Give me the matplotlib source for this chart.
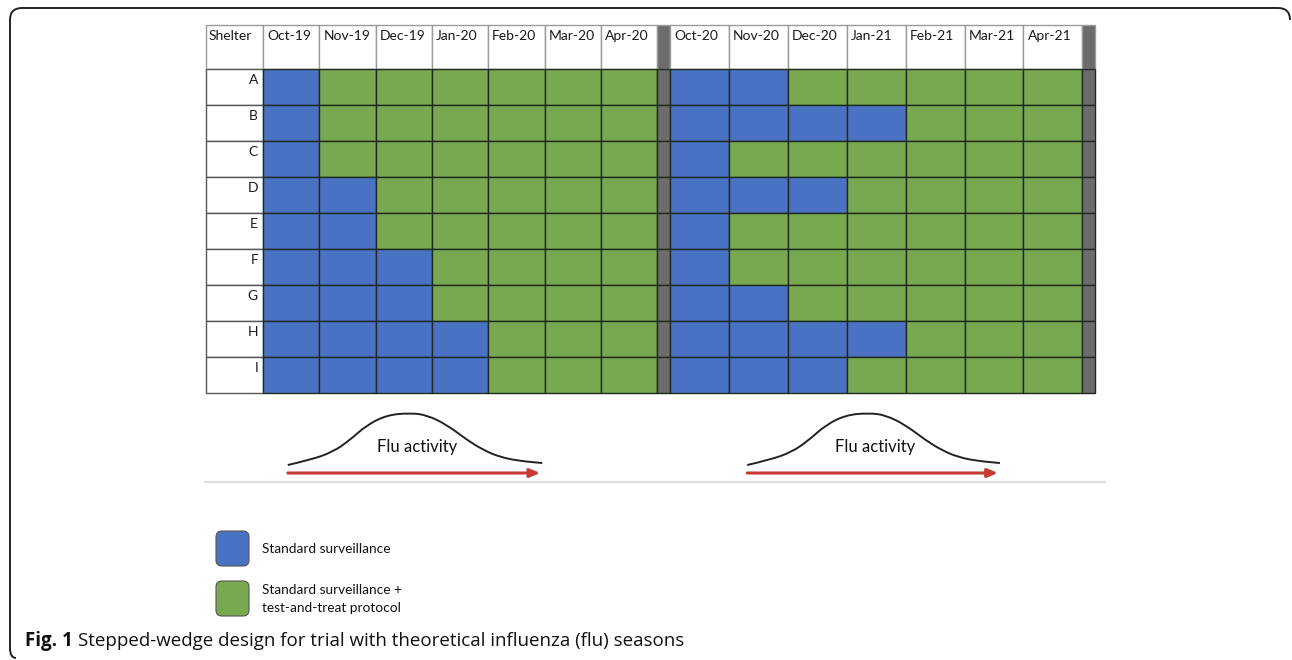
import matplotlib.pyplot as plt
import matplotlib.patches as mpatches
from matplotlib.path import Path

# --- data ---
shelters = ["A", "B", "C", "D", "E", "F", "G", "H", "I"]
months_s1 = ["Oct-19", "Nov-19", "Dec-19", "Jan-20", "Feb-20", "Mar-20", "Apr-20"]
months_s2 = ["Oct-20", "Nov-20", "Dec-20", "Jan-21", "Feb-21", "Mar-21", "Apr-21"]
# months under standard surveillance before switching to test-and-treat
blue_s1 = [1, 1, 1, 2, 2, 3, 3, 4, 4]
blue_s2 = [2, 4, 1, 3, 1, 1, 2, 4, 3]

# flu activity curve (relative position along curve, relative height)
flu_x = [0, .087, .177, .244, .311, .390, .480, .547, .626, .705, .768, .835, .913, 1.0]
flu_h = [0, .096, .25, .48, .77, .96, 1.0, .96, .77, .48, .29, .15, .077, .038]
# start / end of flu curve in month units of each season
flu_span_s1 = (0.44, 4.96)
flu_span_s2 = (1.31, 5.60)

legend_labels = ["Standard surveillance", "Standard surveillance +\ntest-and-treat protocol"]
caption_bold = "Fig. 1"
caption_text = "Stepped-wedge design for trial with theoretical influenza (flu) seasons"

# --- styling / layout (pixel units) ---
BLUE = "#4a72c2"
GREEN = "#78a951"
SEP = "#6e6b6e"
GRID = "#1e2a1e"
LIGHT = "#9a9a9a"
W, H = 1292, 660
x0, y0 = 206, 25
shelter_w = 57
month_w = [56.3, 58.9]
sep_w = 13
head_h = 44
row_h = 36
gfont = "Lato"
gsize = 10


def smooth_path(px, py):
    # quadratic bezier through midpoints for a smooth hand-drawn look
    verts = [(px[0], py[0])]
    codes = [Path.MOVETO]
    for i in range(1, len(px) - 1):
        mx = (px[i] + px[i + 1]) / 2
        my = (py[i] + py[i + 1]) / 2
        verts += [(px[i], py[i]), (mx, my)]
        codes += [Path.CURVE3, Path.CURVE3]
    verts.append((px[-1], py[-1]))
    codes.append(Path.LINETO)
    return Path(verts, codes)


fig = plt.figure(figsize=(W / 100, H / 100), dpi=100)
ax = fig.add_axes([0, 0, 1, 1])
ax.set_xlim(0, W)
ax.set_ylim(H, 0)
ax.axis("off")

n_rows = len(shelters)

# shelter column
ax.add_patch(mpatches.Rectangle((x0, y0), shelter_w, head_h, fc="white", ec=LIGHT, lw=1))
ax.text(x0 + 3, y0 + 11, "Shelter", ha="left", va="center", fontsize=gsize, family=gfont, color="#1a1a1a")
for i, s in enumerate(shelters):
    yy = y0 + head_h + i * row_h
    ax.add_patch(mpatches.Rectangle((x0, yy), shelter_w, row_h, fc="white", ec="#555", lw=1))
    ax.text(x0 + shelter_w - 5, yy + 11, s, ha="right", va="center", fontsize=gsize, family=gfont, color="#1a1a1a")

xs = x0 + shelter_w
season_x = []
for k, (months, blue) in enumerate([(months_s1, blue_s1), (months_s2, blue_s2)]):
    mw = month_w[k]
    season_x.append(xs)
    for j, m in enumerate(months):
        cx = xs + j * mw
        ax.add_patch(mpatches.Rectangle((cx, y0), mw, head_h, fc="white", ec=LIGHT, lw=1))
        ax.text(cx + 4, y0 + 11, m, ha="left", va="center", fontsize=gsize, family=gfont, color="#1a1a1a")
        for i in range(n_rows):
            yy = y0 + head_h + i * row_h
            c = BLUE if j < blue[i] else GREEN
            ax.add_patch(mpatches.Rectangle((cx, yy), mw, row_h, fc=c, ec=GRID, lw=1))
    xs += len(months) * mw
    ax.add_patch(mpatches.Rectangle((xs, y0), sep_w, head_h, fc=SEP, ec=LIGHT, lw=1))
    for i in range(n_rows):
        yy = y0 + head_h + i * row_h
        ax.add_patch(mpatches.Rectangle((xs, yy), sep_w, row_h, fc=SEP, ec=GRID, lw=1))
    xs += sep_w

# flu curves and arrows
for k, span in enumerate([flu_span_s1, flu_span_s2]):
    mw = month_w[k]
    sx0 = season_x[k] + span[0] * mw
    sx1 = season_x[k] + span[1] * mw
    base = 465
    px = [sx0 + f * (sx1 - sx0) for f in flu_x]
    py = [base - h * 52 for h in flu_h]
    ax.add_patch(mpatches.PathPatch(smooth_path(px, py), fc="none", ec="#222", lw=1.4))
    ax.text((sx0 + sx1) / 2 + 2, 447, "Flu activity", ha="center", va="center",
            fontsize=12, family=gfont, color="#111")
    ax.annotate("", xy=(sx1 - 2, 473), xytext=(sx0, 473),
                arrowprops=dict(arrowstyle="-|>,head_length=0.6,head_width=0.25",
                                color="#c53a32", lw=2.2, shrinkA=0, shrinkB=0))

ax.plot([205, 1105], [482, 482], color="#dedede", lw=1.5)

# legend
for i, (c, lab) in enumerate(zip([BLUE, GREEN], legend_labels)):
    ly = 531 + i * 50
    ax.add_patch(mpatches.FancyBboxPatch((216, ly), 33, 35, boxstyle="round,pad=0,rounding_size=6",
                                         fc=c, ec="#555", lw=0.8))
    ax.text(262, ly + 18, lab, ha="left", va="center", fontsize=9.8, family=gfont,
            color="#111", linespacing=1.6)

# caption
t = ax.text(25, 641, caption_bold + " ", ha="left", va="center", fontsize=13.5,
            family="Open Sans", fontweight="bold", color="#111")
fig.canvas.draw()
bb = t.get_window_extent()
ax.text(bb.x1, 641, caption_text, ha="left", va="center", fontsize=13.5,
        family="Open Sans", color="#111")

# rounded frame (top and left side)
verts = [(1290, 20), (1290, 8), (1278, 8), (22, 8), (10, 8), (10, 20),
         (10, 648), (10, 658), (16, 658)]
codes = [Path.MOVETO, Path.CURVE3, Path.CURVE3, Path.LINETO, Path.CURVE3, Path.CURVE3,
         Path.LINETO, Path.CURVE3, Path.CURVE3]
ax.add_patch(mpatches.PathPatch(Path(verts, codes), fc="none", ec="#222", lw=1.4))

fig.savefig("out.png", dpi=100)
